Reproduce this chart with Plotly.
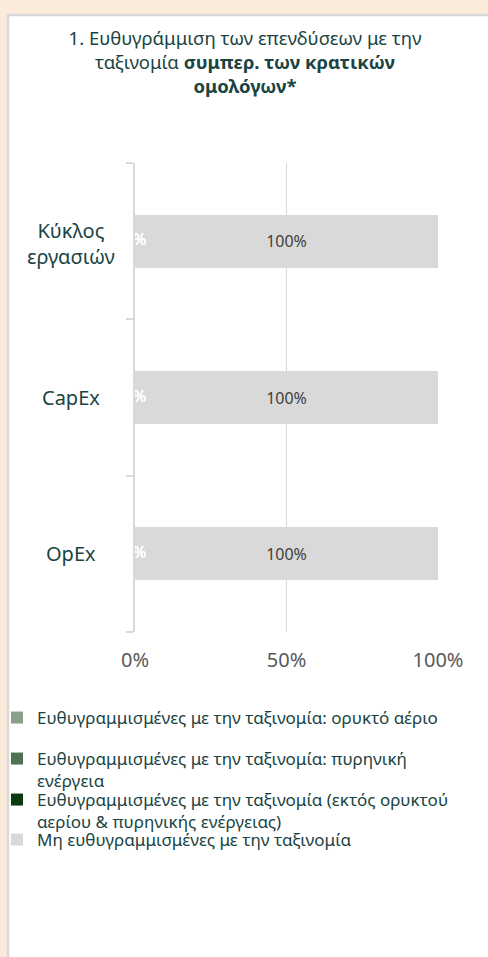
import plotly.graph_objects as go

categories = ["Κύκλος εργασιών", "CapEx", "OpEx"]
category_labels = ["Κύκλος<br>εργασιών", "CapEx", "OpEx"]
series_names = [
    "Ευθυγραμμισμένες με την ταξινομία: ορυκτό αέριο",
    "Ευθυγραμμισμένες με την ταξινομία: πυρηνική<br>ενέργεια",
    "Ευθυγραμμισμένες με την ταξινομία (εκτός ορυκτού<br>αερίου & πυρηνικής ενέργειας)",
    "Μη ευθυγραμμισμένες με την ταξινομία",
]
fossil_gas = [0, 0, 0]
nuclear = [0, 0, 0]
aligned_other = [0, 0, 0]
not_aligned = [100, 100, 100]
x_ticks = [0, 50, 100]
x_tick_labels = ["0%", "50%", "100%"]

series_values = [fossil_gas, nuclear, aligned_other, not_aligned]
colors = ["#8A9E89", "#4F7152", "#0B3A0F", "#D9D9D9"]
label_colors = ["white", "white", "white", "#404040"]
legend_ids = ["legend", "legend2", "legend3", "legend4"]
legend_rows = [716, 757, 798, 838]  # first-line centre of each legend entry (page px)

FONT = "Noto Sans"
TEXT = "#1A4443"

W, H = 488, 957
L, T = 135, 163
R = W - 438
B = H - 632
pw, ph = W - L - R, H - T - B


def px_x(p):
    return (p - L) / pw


def px_y(p):
    return (H - B - p) / ph


fig = go.Figure()
for name, vals, col, lcol, lid in zip(series_names, series_values, colors, label_colors, legend_ids):
    fig.add_trace(go.Bar(
        y=categories, x=vals, name=name, orientation="h",
        marker=dict(color=col, line=dict(width=0)),
        text=[f"{v}%" for v in vals] if vals[0] > 0 else None,
        textposition="inside", insidetextanchor="middle",
        textfont=dict(color=lcol, size=16, family=FONT),
        hoverinfo="skip", legend=lid,
    ))

# zero-value labels (white, overlapping at the axis origin)
for vals in series_values[:3]:
    fig.add_trace(go.Scatter(
        y=categories, x=vals, mode="text",
        text=[f"{v}%" for v in vals], textposition="middle center",
        textfont=dict(color="white", size=16, family=FONT),
        showlegend=False, hoverinfo="skip", cliponaxis=False,
    ))

for cat, lab in zip(categories, category_labels):
    fig.add_annotation(
        x=px_x(71), xref="paper", y=cat, yref="y", text=lab, showarrow=False,
        align="center", xanchor="center", yanchor="middle",
        yshift=-2 if "<br>" in lab else 0,
        font=dict(size=20, color=TEXT, family=FONT),
    )

# white panel with gray frame
fig.add_shape(
    type="rect", xref="paper", yref="paper",
    x0=px_x(8), x1=px_x(500), y0=px_y(970), y1=px_y(15),
    fillcolor="white", line=dict(color="#D9D9D9", width=2.5), layer="below",
)

legend_layout = {}
for lid, row in zip(legend_ids, legend_rows):
    legend_layout[lid] = dict(
        xref="paper", yref="paper",
        x=px_x(-3), xanchor="left", y=px_y(row - 16), yanchor="top",
        orientation="v", valign="top",
        font=dict(size=17, color=TEXT, family=FONT),
        bgcolor="rgba(0,0,0,0)", itemclick=False, itemdoubleclick=False,
    )

fig.update_layout(
    width=W, height=H,
    margin=dict(l=L, r=R, t=T, b=B, autoexpand=False),
    paper_bgcolor="#FBEBDA", plot_bgcolor="white",
    barmode="stack", bargap=0.66,
    showlegend=True,
    title=dict(
        text="1. Ευθυγράμμιση των επενδύσεων με την<br>ταξινομία <b>συμπερ. των κρατικών</b><br><b>ομολόγων*</b>",
        x=245 / W, xanchor="center", y=1 - 45 / H, yanchor="top",
        font=dict(size=18.5, color=TEXT, family=FONT),
    ),
    font=dict(family=FONT),
    xaxis=dict(
        range=[0, 100], tickvals=x_ticks, ticktext=x_tick_labels,
        showgrid=True, gridcolor="#D9D9D9", gridwidth=1.5,
        zeroline=False, showline=False, ticks="",
        tickfont=dict(size=20, color="#595959", family=FONT),
        ticklabelstandoff=14,
        fixedrange=True,
    ),
    yaxis=dict(
        categoryorder="array", categoryarray=categories[::-1],
        showticklabels=False, showline=True, linecolor="#D9D9D9", linewidth=2,
        ticks="outside", tickson="boundaries", ticklen=7, tickcolor="#D9D9D9", tickwidth=2,
        showgrid=False, zeroline=False, fixedrange=True,
    ),
    **legend_layout,
)

fig.write_html(
    "out.html",
    config={"displayModeBar": False, "staticPlot": True},
    post_script="document.body.style.margin='0';document.body.style.background='#FBEBDA';",
)
